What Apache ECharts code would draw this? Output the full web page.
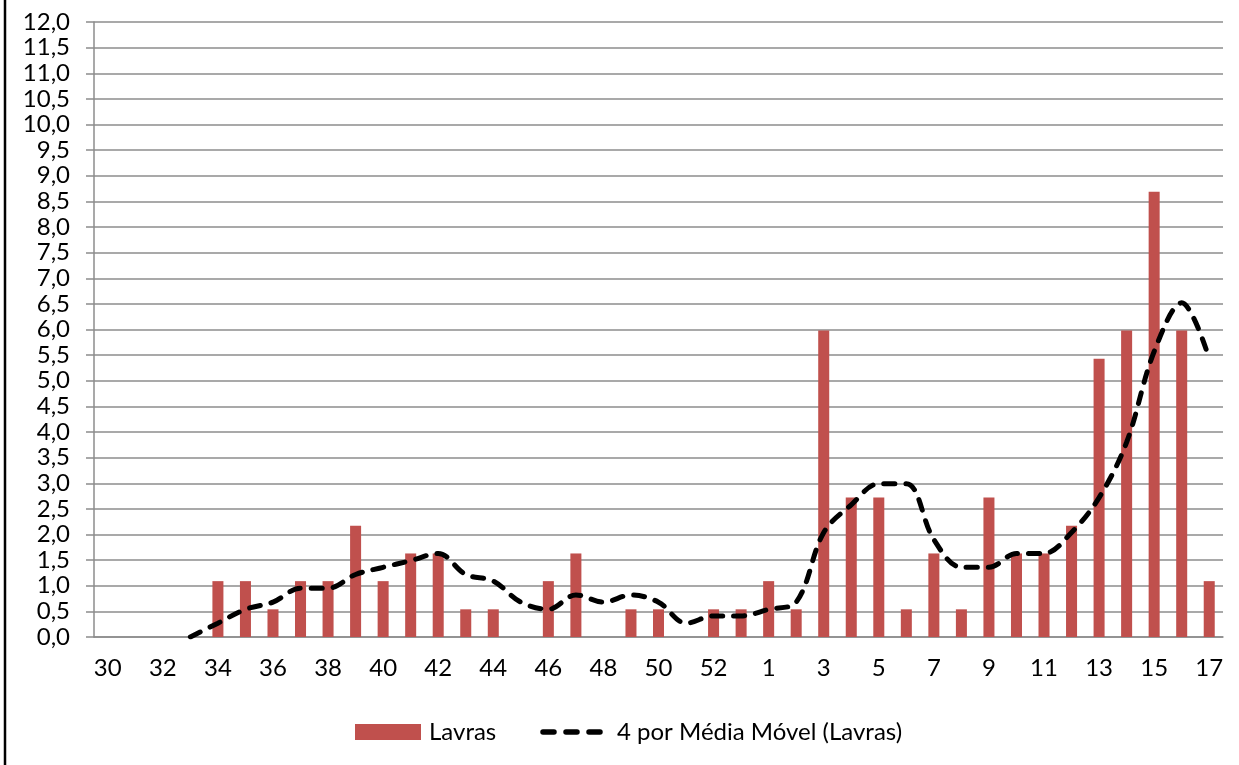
<!DOCTYPE html>
<html>
<head>
<meta charset="utf-8">
<script src="https://cdn.jsdelivr.net/npm/echarts@6/dist/echarts.min.js"></script>
<style>
  html, body { margin: 0; padding: 0; background: #fff; }
  #chart { width: 1239px; height: 765px; }
</style>
</head>
<body>
<div id="chart"></div>
<script>
// semanas epidemiológicas (30..53, depois 1..17)
const semanas = ['30', '31', '32', '33', '34', '35', '36', '37', '38', '39', '40', '41',
  '42', '43', '44', '45', '46', '47', '48', '49', '50', '51', '52', '53',
  '1', '2', '3', '4', '5', '6', '7', '8', '9', '10', '11', '12', '13', '14', '15', '16', '17'];

const lavras = [0, 0, 0, 0, 1.09, 1.09, 0.54, 1.09, 1.09, 2.17, 1.09, 1.63,
  1.63, 0.54, 0.54, 0, 1.09, 1.63, 0, 0.54, 0.54, 0, 0.54, 0.54,
  1.09, 0.54, 5.98, 2.72, 2.72, 0.54, 1.63, 0.54, 2.72, 1.63, 1.63, 2.17, 5.43, 5.98, 8.69, 5.98, 1.09];

const mediaMovel = [null, null, null, 0, 0.27, 0.54, 0.68, 0.95, 0.95, 1.22, 1.36, 1.49,
  1.63, 1.22, 1.09, 0.68, 0.54, 0.82, 0.68, 0.82, 0.68, 0.27, 0.41, 0.41,
  0.54, 0.68, 2.04, 2.58, 2.99, 2.99, 1.90, 1.36, 1.36, 1.63, 1.63, 2.04, 2.72, 3.80, 5.57, 6.52, 5.43];

const fonte = 'Lato, "Open Sans", sans-serif';
const cinza = '#8c8c8c';
const tracejado = { color: '#000', width: 5, type: [11, 11], cap: 'round' };

const chart = echarts.init(document.getElementById('chart'));
chart.setOption({
  animation: false,
  backgroundColor: '#fff',
  textStyle: { fontFamily: fonte },
  grid: { left: 94, right: 16, top: 22, bottom: 128, containLabel: false },
  graphic: [{
    type: 'line',
    shape: { x1: 5, y1: 0, x2: 5, y2: 765 },
    style: { stroke: '#000', lineWidth: 2.5 }
  }],
  legend: {
    left: 350,
    top: 715,
    itemGap: 44,
    itemWidth: 66,
    itemHeight: 16,
    textStyle: { fontFamily: fonte, fontSize: 24, color: '#000', padding: [0, 0, 0, 3] },
    data: [
      { name: 'Lavras', icon: 'rect' },
      {
        name: '4 por Média Móvel (Lavras)',
        itemStyle: { color: 'rgba(0,0,0,0)', borderWidth: 0 },
        lineStyle: { color: '#000', width: 5.5, type: [11, 12], cap: 'round' }
      }
    ]
  },
  xAxis: {
    type: 'category',
    data: semanas,
    boundaryGap: true,
    axisLine: { lineStyle: { color: cinza, width: 1.5 } },
    axisTick: { interval: 1, length: 8, lineStyle: { color: cinza, width: 1.5 } },
    axisLabel: { interval: 1, margin: 19, fontSize: 24, color: '#000', fontFamily: fonte }
  },
  yAxis: {
    type: 'value',
    min: 0,
    max: 12,
    interval: 0.5,
    axisLine: { show: true, lineStyle: { color: cinza, width: 1.5 } },
    axisTick: { show: true, length: 8, lineStyle: { color: cinza, width: 1.5 } },
    splitLine: { lineStyle: { color: cinza, width: 1.5 } },
    axisLabel: {
      margin: 24,
      fontSize: 24,
      color: '#000',
      fontFamily: fonte,
      formatter: v => v.toFixed(1).replace('.', ',')
    }
  },
  series: [
    {
      name: 'Lavras',
      type: 'bar',
      data: lavras,
      barWidth: '40%',
      itemStyle: { color: '#C0504D' }
    },
    {
      name: '4 por Média Móvel (Lavras)',
      type: 'line',
      data: mediaMovel,
      smooth: 0.35,
      symbol: 'none',
      z: 5,
      itemStyle: { color: '#000' },
      lineStyle: tracejado
    }
  ]
});
</script>
</body>
</html>
